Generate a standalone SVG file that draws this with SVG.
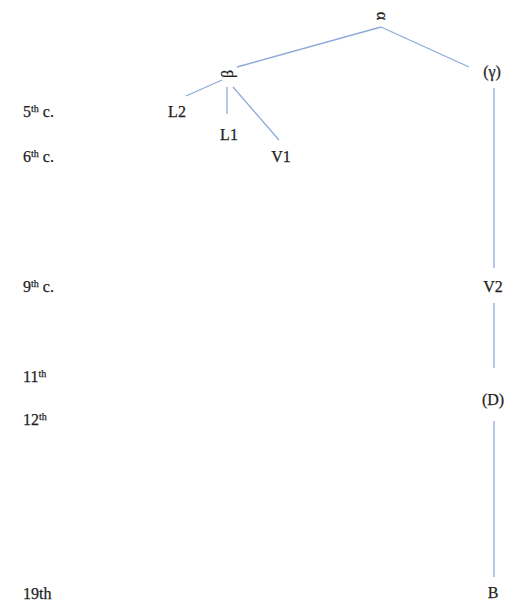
<svg xmlns="http://www.w3.org/2000/svg" width="513" height="607" viewBox="0 0 513 607">
<style>
text{font-family:"Liberation Serif","DejaVu Serif",serif;font-size:16px;fill:#1e1e1e;stroke:#1e1e1e;stroke-width:0.25}
.c{text-anchor:middle}
.sup{font-size:10px}
.g{font-size:16px}
line{stroke:#8eaadb;stroke-width:1.3}
</style>
<rect width="513" height="607" fill="#fff"/>
<g id="connectors">
<line x1="237" y1="67" x2="381" y2="27"/>
<line x1="381" y1="27" x2="469" y2="67"/>
<line x1="222" y1="80" x2="186" y2="96"/>
<line x1="227" y1="87" x2="227" y2="114"/>
<line x1="233" y1="87" x2="279" y2="140"/>
<line x1="494" y1="88" x2="494" y2="268"/>
<line x1="494" y1="303" x2="494" y2="368"/>
<line x1="494" y1="421" x2="494" y2="577"/>
</g>
<g id="alpha"><text class="c g" transform="translate(382,16) rotate(90)" dy="5">α</text></g>
<g id="beta"><text class="c g" transform="translate(228,74) rotate(-90)" dy="5">β</text></g>
<g id="gamma"><text class="c" x="492" y="77">(<tspan class="g">γ</tspan>)</text></g>
<g id="L2"><text class="c" x="177" y="117">L2</text></g>
<g id="L1"><text class="c" x="229" y="140">L1</text></g>
<g id="V1"><text class="c" x="281" y="162">V1</text></g>
<g id="V2"><text class="c" x="493" y="292">V2</text></g>
<g id="D"><text class="c" x="493" y="405">(D)</text></g>
<g id="B"><text class="c" x="493" y="598">B</text></g>
<g id="timeline">
<text x="23" y="117">5<tspan class="sup" dy="-5">th</tspan><tspan dy="5"> c.</tspan></text>
<text x="23" y="162">6<tspan class="sup" dy="-5">th</tspan><tspan dy="5"> c.</tspan></text>
<text x="23" y="292">9<tspan class="sup" dy="-5">th</tspan><tspan dy="5"> c.</tspan></text>
<text x="23" y="382">11<tspan class="sup" dy="-5">th</tspan></text>
<text x="23" y="425">12<tspan class="sup" dy="-5">th</tspan></text>
<text x="23" y="599">19th</text>
</g>
</svg>
